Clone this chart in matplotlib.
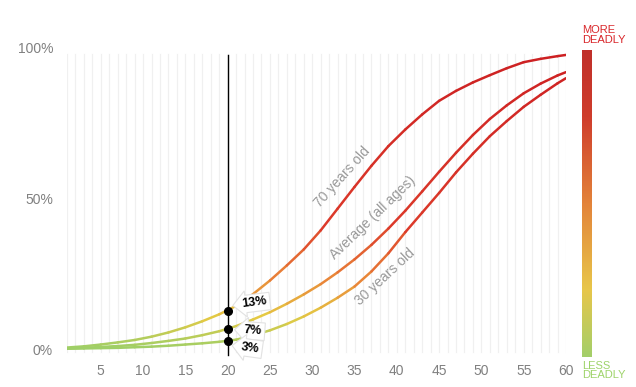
import numpy as np
import matplotlib
matplotlib.use('Agg')
import matplotlib.pyplot as plt
from matplotlib.collections import LineCollection
from matplotlib.colors import LinearSegmentedColormap

plt.rcParams['font.family'] = ['Liberation Sans', 'DejaVu Sans']

# ages (x) and death rate (%)
ages = [1, 3, 5, 7, 9, 11, 13, 15, 17, 19, 21, 23, 25, 27, 29, 31, 33, 35,
        37, 39, 41, 43, 45, 47, 49, 51, 53, 55, 57, 59, 60]
old70 = [0.8, 1.2, 1.8, 2.5, 3.3, 4.4, 5.8, 7.5, 9.5, 11.8, 14.6, 18.5, 23, 28,
         33.3, 39.6, 46.8, 54, 61, 67.5, 73, 78, 82.5, 85.8, 88.6, 91, 93.3,
         95.3, 96.4, 97.3, 97.7]
average = [0.5, 0.7, 1.0, 1.3, 1.7, 2.3, 3.0, 3.8, 4.9, 6.2, 7.9, 10.1, 12.5,
           15.3, 18.4, 21.8, 25.7, 30, 34.8, 40.2, 46.1, 52.5, 59, 65.3, 71.2,
           76.5, 81, 85, 88.2, 90.9, 92]
old30 = [0.4, 0.5, 0.6, 0.7, 0.9, 1.1, 1.4, 1.8, 2.2, 2.7, 3.4, 4.8, 6.5, 8.6,
         11.1, 14, 17.3, 21, 26, 32, 39, 45.5, 52, 58.8, 65, 70.8, 75.8, 80.5,
         84.5, 88.3, 90]

marker_age = 20
marker_vals = [13, 7, 3]
marker_labels = ['13%', '7%', '3%']

series_labels = ['70 years old', 'Average (all ages)', '30 years old']

cmap = LinearSegmentedColormap.from_list(
    'deadly', [(0.0, '#9ccf68'), (0.11, '#e5c943'), (0.24, '#e98438'),
               (0.42, '#dc3a2a'), (1.0, '#cc1f22')])
bar_cmap = LinearSegmentedColormap.from_list(
    'deadly_bar', [(0.0, '#a3cf6a'), (0.22, '#e8c64a'), (0.5, '#e3833a'),
                   (0.78, '#cf3d2c'), (1.0, '#c0302a')])

fig = plt.figure(figsize=(6.36, 3.87), dpi=100)
ax = fig.add_axes([0.1053, 0.0801, 0.7846, 0.7959])
ax.set_xlim(1, 60)
ax.set_ylim(-2, 100)

# light vertical grid, one per year
for g in range(1, 61):
    ax.plot([g, g], [-0.7, 98], color='#f0f0f0', lw=0.9, zorder=0)


def grad_line(xs, ys):
    xs = np.asarray(xs, float)
    ys = np.asarray(ys, float)
    pts = np.column_stack([xs, ys]).reshape(-1, 1, 2)
    segs = np.concatenate([pts[:-1], pts[1:]], axis=1)
    mid = (ys[:-1] + ys[1:]) / 200.0
    lc = LineCollection(segs, colors=cmap(mid), linewidths=1.8,
                        capstyle='round', joinstyle='round', zorder=2)
    ax.add_collection(lc)


for s in [old70, average, old30]:
    grad_line(ages, s)

# curve labels
ax.text(33.6, 57.3, series_labels[0], rotation=48, color='#999999', fontsize=10,
        ha='center', va='center', rotation_mode='anchor')
ax.text(37.2, 43.7, series_labels[1], rotation=44, color='#999999', fontsize=10,
        ha='center', va='center', rotation_mode='anchor')
ax.text(38.6, 24.2, series_labels[2], rotation=43, color='#999999', fontsize=10,
        ha='center', va='center', rotation_mode='anchor')

# marker line at age 20
ax.plot([marker_age, marker_age], [-1.8, 97.7], color='black', lw=1, zorder=3,
        clip_on=False)
ax.plot([marker_age] * 3, marker_vals, 'o', color='black', ms=5.5, zorder=4)

tag_pos = [(23.2, 15.6, 7), (23.0, 6.3, -4), (22.7, 0.6, -8)]
for (tx, ty, rot), lab in zip(tag_pos, marker_labels):
    ax.text(tx, ty, lab, fontsize=9, fontweight='bold', color='black',
            ha='center', va='center', rotation=rot, zorder=5,
            bbox=dict(boxstyle='larrow,pad=0.22', fc='white', ec='#e2e2e2', lw=0.8))

ax.set_xticks(range(5, 61, 5))
ax.set_yticks([0, 50, 100])
ax.set_yticklabels(['0%', '50%', '100%'])
ax.tick_params(length=0, colors='#808080', labelsize=10)
ax.tick_params(axis='y', pad=10)
ax.tick_params(axis='x', pad=6)
for sp in ax.spines.values():
    sp.set_visible(False)

# colour scale bar on the right
cax = fig.add_axes([0.9151, 0.0775, 0.0157, 0.7933])
grad = np.linspace(0, 1, 256).reshape(-1, 1)
cax.imshow(grad, cmap=bar_cmap, aspect='auto', origin='lower')
cax.axis('off')
fig.text(0.9151, 0.885, 'MORE\nDEADLY', color='#d9262a', fontsize=8,
         ha='left', va='bottom', linespacing=0.95)
fig.text(0.9151, 0.068, 'LESS\nDEADLY', color='#9ed36a', fontsize=8,
         ha='left', va='top', linespacing=0.95)

fig.savefig('out.png', dpi=100)
